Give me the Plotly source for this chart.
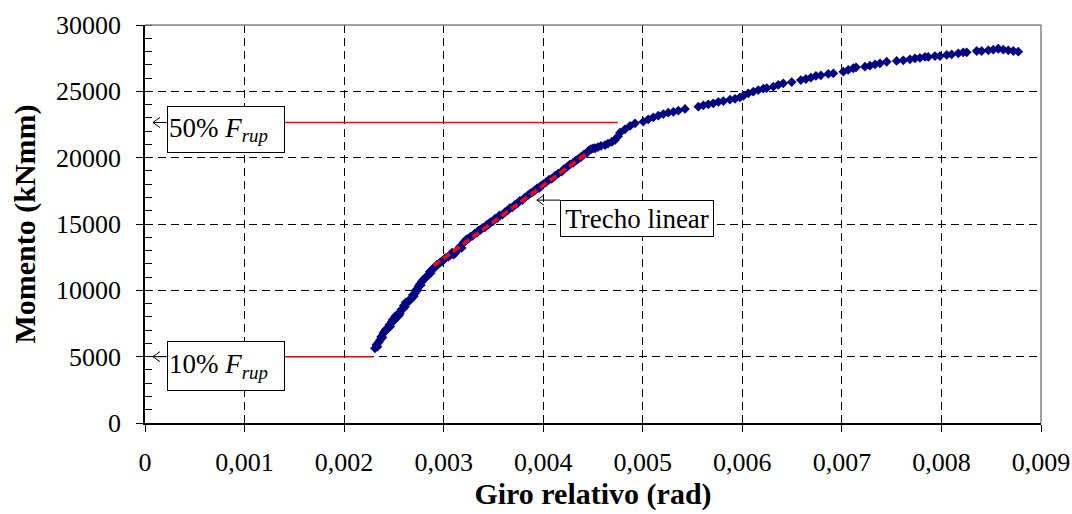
import plotly.graph_objects as go

# Ensaio: momento x giro relativo (pontos medidos)
giro_rad = [
    0.002310, 0.002325, 0.002335, 0.002350, 0.002360, 0.002372, 0.002385, 0.002394,
    0.002405, 0.002420, 0.002444, 0.002455, 0.002465, 0.002478, 0.002490, 0.002505,
    0.002515, 0.002528, 0.002540, 0.002550, 0.002561, 0.002575, 0.002590, 0.002600,
    0.002612, 0.002620, 0.002629, 0.002645, 0.002660, 0.002679, 0.002690, 0.002700,
    0.002712, 0.002725, 0.002735, 0.002745, 0.002760, 0.002770, 0.002779, 0.002795,
    0.002812, 0.002830, 0.002846, 0.002860, 0.002870, 0.002880, 0.002900, 0.002915,
    0.002930, 0.002950, 0.002965, 0.002980, 0.003000, 0.003020, 0.003046, 0.003065,
    0.003085, 0.003100, 0.003114, 0.003130, 0.003150, 0.003165, 0.003181, 0.003200,
    0.003214, 0.003230, 0.003250, 0.003270, 0.003290, 0.003315, 0.003335, 0.003350,
    0.003370, 0.003390, 0.003415, 0.003435, 0.003450, 0.003470, 0.003495, 0.003516,
    0.003540, 0.003560, 0.003590, 0.003616, 0.003640, 0.003665, 0.003690, 0.003716,
    0.003740, 0.003765, 0.003790, 0.003817, 0.003845, 0.003870, 0.003895, 0.003917,
    0.003940, 0.003960, 0.003980, 0.004001, 0.004030, 0.004060, 0.004085, 0.004120,
    0.004150, 0.004186, 0.004210, 0.004240, 0.004269, 0.004300, 0.004330, 0.004352,
    0.004380, 0.004410, 0.004437, 0.004460, 0.004480, 0.004500, 0.004520, 0.004550,
    0.004580, 0.004621, 0.004650, 0.004690, 0.004721, 0.004750,
    0.004771, 0.004821, 0.004872, 0.004922, 0.005005, 0.005055, 0.005106, 0.005156,
    0.005206, 0.005256, 0.005307, 0.005357, 0.005424, 0.005558, 0.005608, 0.005658,
    0.005708, 0.005759, 0.005809, 0.005876, 0.005926, 0.005976, 0.006010, 0.006060,
    0.006110, 0.006160, 0.006211, 0.006245, 0.006311, 0.006361, 0.006411, 0.006496,
    0.006588, 0.006638, 0.006688, 0.006739, 0.006789, 0.006863, 0.006914, 0.007014,
    0.007064, 0.007115, 0.007142, 0.007232, 0.007282, 0.007333, 0.007383, 0.007450,
    0.007550, 0.007617, 0.007684, 0.007734, 0.007784, 0.007835, 0.007868, 0.007935,
    0.007985, 0.008053, 0.008103, 0.008169, 0.008219, 0.008254, 0.008354, 0.008404,
    0.008471, 0.008521, 0.008571, 0.008621, 0.008671, 0.008722, 0.008772,
]
momento_knmm = [
    5630, 5900, 5750, 6100, 6260, 6500, 6450, 6760,
    6900, 7050, 7140, 7400, 7300, 7640, 7800, 7750,
    8050, 8010, 8200, 8100, 8270, 8550, 8600, 8850,
    8770, 9100, 9020, 9200, 9250, 9400, 9650, 9550,
    9780, 10050, 10000, 10270, 10450, 10400, 10650, 10800,
    10910, 11050, 11160, 11400, 11300, 11530, 11700, 11750,
    11910, 12000, 12100, 12160, 12300, 12450, 12530, 12650,
    12850, 12700, 12790, 13000, 13100, 13300, 13200, 13600,
    13700, 13850, 13900, 14050, 14100, 14300, 14350, 14500,
    14550, 14700, 14750, 14950, 14950, 15150, 15200, 15400,
    15450, 15650, 15700, 15900, 16000, 16200, 16250, 16450,
    16550, 16750, 16800, 17000, 17150, 17300, 17400, 17550,
    17700, 17700, 17900, 18000, 18150, 18350, 18400, 18650,
    18800, 18950, 19150, 19300, 19500, 19600, 19800, 19900,
    20050, 20250, 20350, 20550, 20650, 20700, 20710, 20800,
    20880, 20950, 21050, 21200, 21330, 21600,
    21880, 22140, 22390, 22590, 22710, 22890, 23040, 23160,
    23290, 23390, 23460, 23540, 23670, 23840, 23950, 24020,
    24100, 24200, 24270, 24370, 24440, 24550, 24650, 24850,
    24970, 25100, 25200, 25250, 25350, 25480, 25600, 25700,
    25850, 25930, 26030, 26160, 26210, 26310, 26360, 26480,
    26610, 26740, 26810, 26860, 26930, 27040, 27110, 27230,
    27290, 27340, 27410, 27490, 27530, 27590, 27590, 27660,
    27660, 27740, 27790, 27870, 27940, 27940, 28040, 28040,
    28090, 28140, 28210, 28140, 28090, 28040, 27990,
]

# Trecho linear ajustado (inicio e fim)
linear_giro = [0.00290, 0.00446]
linear_momento = [11860, 20440]

# Niveis de referencia (10% e 50% da carga de ruptura)
nivel_10 = 5000
nivel_50 = 22650
fim_10 = 0.00229
fim_50 = 0.00475

x_tickvals = [0, 0.001, 0.002, 0.003, 0.004, 0.005, 0.006, 0.007, 0.008, 0.009]
x_ticktext = ["0", "0,001", "0,002", "0,003", "0,004", "0,005", "0,006", "0,007", "0,008", "0,009"]
y_tickvals = [0, 5000, 10000, 15000, 20000, 25000, 30000]
y_ticktext = ["0", "5000", "10000", "15000", "20000", "25000", "30000"]

SERIF = "Liberation Serif, Times New Roman, serif"
NAVY = "#000080"

fig = go.Figure()

fig.add_trace(go.Scatter(
    x=giro_rad, y=momento_knmm, mode="markers",
    marker=dict(symbol="diamond", size=7.5, color=NAVY, line=dict(width=0)),
    showlegend=False, hoverinfo="x+y",
))

fig.add_trace(go.Scatter(
    x=linear_giro, y=linear_momento, mode="lines",
    line=dict(color="#ff0000", width=3.5, dash="8px,4px"),
    showlegend=False, hoverinfo="skip",
))

shapes = []
# linhas horizontais dos niveis de carga
shapes.append(dict(type="line", xref="x", yref="y", x0=0.0014, x1=fim_50, y0=nivel_50, y1=nivel_50,
                   line=dict(color="#ff0000", width=1.5), layer="above"))
shapes.append(dict(type="line", xref="x", yref="y", x0=0.0014, x1=fim_10, y0=nivel_10, y1=nivel_10,
                   line=dict(color="#e00000", width=1.5), layer="above"))

# borda cinza superior e direita da area de plotagem
shapes.append(dict(type="line", xref="paper", yref="paper", x0=0, x1=1, y0=1, y1=1,
                   line=dict(color="#808080", width=1.5), layer="above"))
shapes.append(dict(type="line", xref="paper", yref="paper", x0=1, x1=1, y0=0, y1=1,
                   line=dict(color="#808080", width=1.5), layer="above"))


def seta(x_ponta, y_ponta, x_caixa):
    """Seta fina com ponta aberta '<' apontando para (x_ponta, y_ponta)."""
    shapes.append(dict(type="line", xref="x", yref="y", x0=x_ponta, x1=x_caixa,
                       y0=y_ponta, y1=y_ponta, line=dict(color="black", width=1), layer="above"))
    shapes.append(dict(type="path", xref="x", yref="y", xsizemode="pixel", ysizemode="pixel",
                       xanchor=x_ponta, yanchor=y_ponta, path="M 7,5 L 0,0 L 7,-5",
                       line=dict(color="black", width=1), layer="above"))


seta(0.00008, nivel_50, 0.00022)
seta(0.00008, nivel_10, 0.00022)
seta(0.003936, 16800, 0.004168)

caixa = dict(showarrow=False, bgcolor="white", bordercolor="black", borderwidth=1,
             borderpad=1, font=dict(family=SERIF, size=27, color="black"),
             xref="x", yref="y", align="left")
annotations = [
    dict(caixa, x=0.000814, y=22120, text="50% <i>F</i><sub><i>rup</i></sub>", width=114, height=43),
    dict(caixa, x=0.000814, y=4300, text="10% <i>F</i><sub><i>rup</i></sub>", width=114, height=46),
    dict(caixa, x=0.004942, y=15414, text="Trecho linear", width=150, height=33, align="center"),
]

fig.update_layout(
    width=1072, height=514,
    margin=dict(l=145, r=31, t=25, b=91),
    paper_bgcolor="white", plot_bgcolor="white",
    font=dict(family=SERIF, size=26, color="black"),
    shapes=shapes, annotations=annotations,
    showlegend=False,
)

fig.update_xaxes(
    range=[0, 0.009], tickvals=x_tickvals, ticktext=x_ticktext,
    automargin=False,
    showline=True, linecolor="black", linewidth=1.5,
    ticks="outside", ticklen=7, tickcolor="black", tickwidth=1,
    ticklabelstandoff=8,
    showgrid=True, gridcolor="black", gridwidth=1, griddash="8px,5px",
    zeroline=False,
    title=dict(text="<b>Giro relativo (rad)</b>", font=dict(family=SERIF, size=30), standoff=6),
)
fig.update_yaxes(
    range=[0, 30000], tickvals=y_tickvals, ticktext=y_ticktext,
    automargin=False,
    showline=True, linecolor="black", linewidth=1.5,
    ticks="outside", ticklen=7, tickcolor="black", tickwidth=1,
    ticklabelstandoff=10,
    minor=dict(ticks="inside", ticklen=7, tickcolor="black", tickwidth=1, dtick=1000, showgrid=False),
    showgrid=True, gridcolor="black", gridwidth=1, griddash="8px,5px",
    zeroline=False,
    title=dict(text="<b>Momento (kNmm)</b>", font=dict(family=SERIF, size=30), standoff=12),
)

fig.write_html("out.html")
